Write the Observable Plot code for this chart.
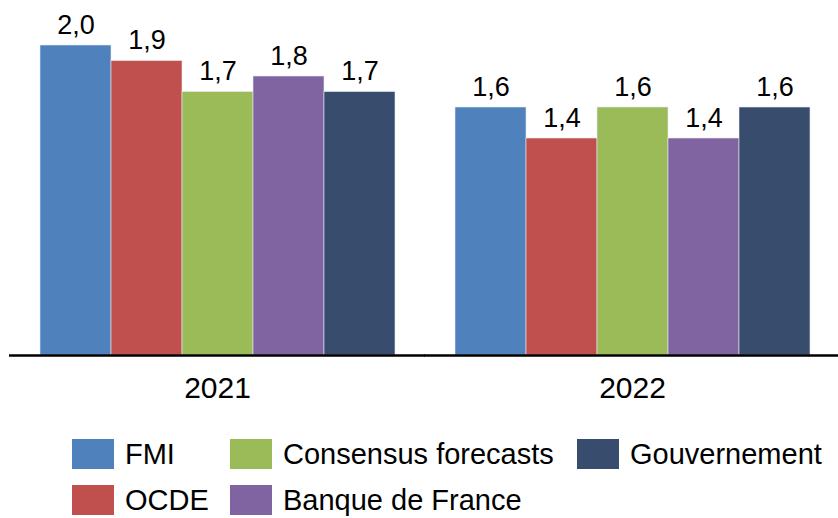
<!DOCTYPE html>
<html>
<head>
<meta charset="utf-8">
<script src="https://cdn.jsdelivr.net/npm/d3@7"></script>
<script src="https://cdn.jsdelivr.net/npm/@observablehq/plot@0.6"></script>
<style>
  html, body { margin: 0; padding: 0; background: #fff; }
  body { width: 838px; height: 518px; overflow: hidden; font-family: "Liberation Sans", Arial, sans-serif; }
  #legend {
    display: grid;
    grid-auto-flow: column;
    grid-template-rows: repeat(2, 46px);
    grid-template-columns: 158px 347px auto;
    margin-top: 11px;
    padding-left: 72px;
  }
  .item { display: flex; align-items: center; font-size: 29px; color: #000; white-space: nowrap; }
  .sw { width: 42px; height: 30px; margin-right: 11px; flex: none; }
</style>
</head>
<body>
<div id="chart"></div>
<div id="legend"></div>
<script>
const years = ["2021", "2022"];
const sources = ["FMI", "OCDE", "Consensus forecasts", "Banque de France", "Gouvernement"];
const colors = ["#4F81BD", "#C0504D", "#9BBB59", "#8064A2", "#384C6D"];
const values2021 = [2.0, 1.9, 1.7, 1.8, 1.7];
const values2022 = [1.6, 1.4, 1.6, 1.4, 1.6];

const series = [values2021, values2022];
const data = years.flatMap((year, i) =>
  sources.map((source, j) => ({ year, source, value: series[i][j] }))
);
const fmt = v => v.toFixed(1).replace(".", ",");

const chart = Plot.plot({
  width: 838,
  height: 420,
  marginTop: 45,
  marginBottom: 65,
  marginLeft: 38,
  marginRight: 27,
  style: { fontFamily: "'Liberation Sans', Arial, sans-serif", fontSize: "30px", color: "#000", background: "#fff" },
  fx: { domain: years, paddingInner: 0.138, paddingOuter: 0, label: null, tickSize: 0, tickPadding: 21 },
  x: { domain: sources, padding: 0, axis: null },
  y: { domain: [0, 2], axis: null },
  color: { domain: sources, range: colors },
  marks: [
    Plot.barY(data, { fx: "year", x: "source", y: "value", fill: "source", stroke: "#e8ecf2", strokeWidth: 0.6, inset: 0 }),
    Plot.text(data, { fx: "year", x: "source", y: "value", text: d => fmt(d.value), lineAnchor: "bottom", dy: -12, fontSize: 27, fill: "#000" }),
    Plot.ruleY([0], { stroke: "#000", strokeWidth: 2.5, insetLeft: -29, insetRight: -29 })
  ]
});
document.getElementById("chart").appendChild(chart);

const legend = document.getElementById("legend");
sources.forEach((s, i) => {
  const item = document.createElement("div");
  item.className = "item";
  const sw = document.createElement("span");
  sw.className = "sw";
  sw.style.background = colors[i];
  item.appendChild(sw);
  item.appendChild(document.createTextNode(s));
  legend.appendChild(item);
});
</script>
</body>
</html>
